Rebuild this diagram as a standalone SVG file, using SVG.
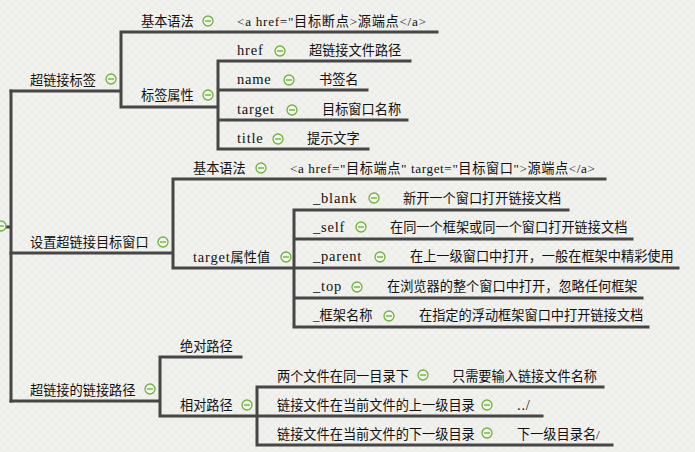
<svg xmlns="http://www.w3.org/2000/svg" xmlns:xlink="http://www.w3.org/1999/xlink" width="695" height="452" viewBox="0 0 695 452">
<defs>
<style>
.ln{fill:none;stroke:#464646;stroke-width:3;stroke-linecap:square}
.t{font-family:"Liberation Serif","Noto Sans CJK SC",serif;font-size:13.2px;fill:#111}
.l{font-size:14.5px;letter-spacing:0.8px}
</style>
<pattern id="bg" width="8" height="8" patternUnits="userSpaceOnUse">
<rect width="8" height="8" fill="#f1f1ee"/>
<path d="M0,8 L8,0 M0,0 L8,8" stroke="#e6e6e2" stroke-width="0.6"/>
</pattern>
<g id="m">
<circle r="5" fill="#f4f9ee" stroke="#6cb33c" stroke-width="1.3"/>
<path d="M-3,0 H3" stroke="#6cb33c" stroke-width="1.4"/>
</g>
</defs>
<rect width="695" height="452" fill="url(#bg)"/>
<g id="connectors">
<path class="ln" d="M5,227 H11 M11,91 V401"/>
<path class="ln" d="M11,91 H121 M121,32 V107 M121,32 H437 M121,107 H218 M218,61 V149 M218,61 H410 M218,90 H367 M218,120 H407 M218,149 H368"/>
<path class="ln" d="M11,253 H173 M173,179 V268 M173,179 H605 M173,268 H294 M294,210 V327 M294,210 H568 M294,239 H632 M294,268 H678 M294,298 H642 M294,327 H648"/>
<path class="ln" d="M11,401 H160 M160,357 V416 M160,357 H241 M160,416 H257 M257,387 V445 M257,387 H603 M257,416 H542 M257,445 H612"/>
</g>
<g id="root"><use xlink:href="#m" x="1" y="226"/></g>
<g id="n1"><text class="t" x="30" y="85">超链接标签</text><use xlink:href="#m" x="111" y="79"/></g>
<g id="n1a"><text class="t" x="141" y="26">基本语法</text><use xlink:href="#m" x="208" y="21"/></g>
<g id="n1a1"><text class="t" x="237" y="26" textLength="189">&lt;a href="目标断点&gt;源端点&lt;/a&gt;</text></g>
<g id="n1b"><text class="t" x="141" y="100">标签属性</text><use xlink:href="#m" x="208" y="95"/></g>
<g id="n1b1"><text class="t l" x="237" y="55">href</text><use xlink:href="#m" x="280" y="51"/></g>
<g id="n1b1v"><text class="t" x="309" y="55">超链接文件路径</text></g>
<g id="n1b2"><text class="t l" x="237" y="84">name</text><use xlink:href="#m" x="289" y="80"/></g>
<g id="n1b2v"><text class="t" x="319" y="84">书签名</text></g>
<g id="n1b3"><text class="t l" x="237" y="114">target</text><use xlink:href="#m" x="292" y="110"/></g>
<g id="n1b3v"><text class="t" x="322" y="114">目标窗口名称</text></g>
<g id="n1b4"><text class="t l" x="237" y="143">title</text><use xlink:href="#m" x="278" y="139"/></g>
<g id="n1b4v"><text class="t" x="307" y="143">提示文字</text></g>
<g id="n2"><text class="t" x="30" y="247">设置超链接目标窗口</text><use xlink:href="#m" x="163" y="242"/></g>
<g id="n2a"><text class="t" x="193" y="173">基本语法</text><use xlink:href="#m" x="261" y="168"/></g>
<g id="n2a1"><text class="t" x="290" y="173" textLength="305">&lt;a href="目标端点" target="目标窗口"&gt;源端点&lt;/a&gt;</text></g>
<g id="n2b"><text class="t" x="193" y="262"><tspan class="l">target</tspan>属性值</text><use xlink:href="#m" x="286" y="257"/></g>
<g id="n2b1"><text class="t l" x="313" y="203">_blank</text><use xlink:href="#m" x="374" y="198"/></g>
<g id="n2b1v"><text class="t" x="403" y="203">新开一个窗口打开链接文档</text></g>
<g id="n2b2"><text class="t l" x="313" y="232">_self</text><use xlink:href="#m" x="361" y="227"/></g>
<g id="n2b2v"><text class="t" x="390" y="232">在同一个框架或同一个窗口打开链接文档</text></g>
<g id="n2b3"><text class="t l" x="313" y="261">_parent</text><use xlink:href="#m" x="380" y="257"/></g>
<g id="n2b3v"><text class="t" x="410" y="261">在上一级窗口中打开，一般在框架中精彩使用</text></g>
<g id="n2b4"><text class="t l" x="313" y="291">_top</text><use xlink:href="#m" x="357" y="287"/></g>
<g id="n2b4v"><text class="t" x="387" y="291">在浏览器的整个窗口中打开，忽略任何框架</text></g>
<g id="n2b5"><text class="t" x="313" y="320">_框架名称</text><use xlink:href="#m" x="389" y="316"/></g>
<g id="n2b5v"><text class="t" x="419" y="320">在指定的浮动框架窗口中打开链接文档</text></g>
<g id="n3"><text class="t" x="30" y="395">超链接的链接路径</text><use xlink:href="#m" x="150" y="389"/></g>
<g id="n3a"><text class="t" x="180" y="351">绝对路径</text></g>
<g id="n3b"><text class="t" x="180" y="410">相对路径</text><use xlink:href="#m" x="247" y="405"/></g>
<g id="n3b1"><text class="t" x="277" y="381">两个文件在同一目录下</text><use xlink:href="#m" x="423" y="375"/></g>
<g id="n3b1v"><text class="t" x="452" y="381">只需要输入链接文件名称</text></g>
<g id="n3b2"><text class="t" x="277" y="410">链接文件在当前文件的上一级目录</text><use xlink:href="#m" x="487" y="405"/></g>
<g id="n3b2v"><text class="t l" x="517" y="410">../</text></g>
<g id="n3b3"><text class="t" x="277" y="439">链接文件在当前文件的下一级目录</text><use xlink:href="#m" x="487" y="433"/></g>
<g id="n3b3v"><text class="t" x="517" y="439">下一级目录名/</text></g>
</svg>
